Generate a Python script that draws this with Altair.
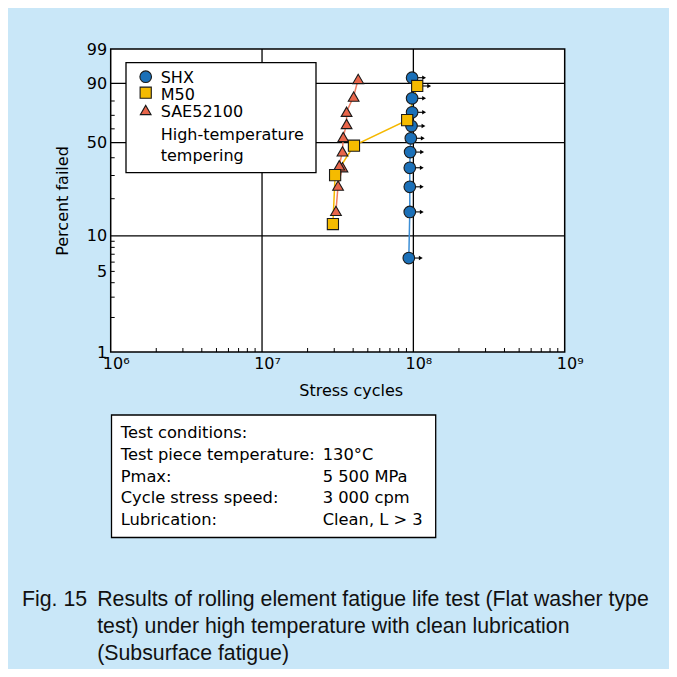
import math
import altair as alt
import pandas as pd

# ---------------- data ----------------
SERIES = ["SHX", "M50", "SAE52100"]
FILL_COLORS = ["#1b70b8", "#f5bb00", "#e8654a"]
LINE_COLORS = ["#3d8fd6", "#f5b800", "#ef7d62"]
SHAPES = ["circle", "square", "triangle-up"]
SIZES = [135, 115, 215]

SHX_CYCLES = [9.33e7, 9.47e7, 9.47e7, 9.47e7, 9.52e7, 9.62e7, 9.72e7, 9.81e7, 9.81e7, 9.81e7]
SHX_PCT = [6.5, 15.7, 24.7, 34.1, 43.6, 53.1, 62.1, 72.2, 81.7, 92.4]
SHX_SUSPENDED = [True, True, True, True, True, True, True, True, True, True]

M50_CYCLES = [2.94e7, 3.04e7, 4.05e7, 9.1e7, 1.06e8]
M50_PCT = [12.5, 30.2, 47.9, 66.5, 88.7]
M50_SUSPENDED = [False, False, False, False, True]

SAE_CYCLES = [3.08e7, 3.18e7, 3.40e7, 3.24e7, 3.40e7, 3.44e7, 3.62e7, 3.62e7, 4.03e7, 4.32e7]
SAE_PCT = [16.0, 25.2, 34.4, 35.5, 44.1, 54.0, 63.6, 72.6, 82.8, 91.9]
SAE_SUSPENDED = [False, False, False, False, False, False, False, False, False, False]

Y_LABEL_TICKS = [1, 5, 10, 50, 90, 99]
Y_GRID = [10, 50, 90]
Y_MINOR = [2, 3, 4, 5, 6, 7, 8, 9, 20, 30, 40, 60, 70, 80]
X_LABEL_TICKS = [1e6, 1e7, 1e8, 1e9]
X_GRID = [1e7, 1e8]
X_MINOR = [m * 10 ** e for e in (6, 7, 8) for m in range(2, 10)]

LEGEND_NOTE = ["High-temperature", "tempering"]
TEST_LABELS = ["Test conditions:", "Test piece temperature:", "Pmax:",
               "Cycle stress speed:", "Lubrication:"]
TEST_VALUES = ["130°C", "5 500 MPa", "3 000 cpm", "Clean, L > 3"]
CAPTION_NUM = "Fig. 15"
CAPTION_LINES = ["Results of rolling element fatigue life test (Flat washer type",
                 "test) under high temperature with clean lubrication",
                 "(Subsurface fatigue)"]

# ---------------- tables ----------------
main = pd.concat([
    pd.DataFrame({"series": "SHX", "cycles": SHX_CYCLES, "pct": SHX_PCT, "susp": SHX_SUSPENDED}),
    pd.DataFrame({"series": "SAE52100", "cycles": SAE_CYCLES, "pct": SAE_PCT, "susp": SAE_SUSPENDED}),
    pd.DataFrame({"series": "M50", "cycles": M50_CYCLES, "pct": M50_PCT, "susp": M50_SUSPENDED}),
], ignore_index=True)

WEIBULL = "log(-log(1 - datum.pct / 100))"


def weib(p):
    return math.log(-math.log(1 - p / 100))


W, H = 454, 303
FONT = "DejaVu Sans"

xscale = alt.Scale(type="log", domain=[1e6, 1e9], nice=False)
yscale = alt.Scale(domain=[weib(1), weib(99)], nice=False, zero=False)

SUP = "['⁰','¹','²','³','⁴','⁵','⁶','⁷','⁸','⁹']"
xaxis = alt.Axis(values=X_LABEL_TICKS,
                 labelExpr="'10' + " + SUP + "[round(log(datum.value) / LN10)]",
                 ticks=False, tickSize=0, domain=False, grid=False,
                 labelFont=FONT, labelFontSize=16, labelColor="black",
                 labelPadding=3, labelOffset=5, labelFlush=False, labelOverlap=False,
                 title="Stress cycles", titleFont=FONT, titleFontSize=16,
                 titleFontWeight="normal", titleColor="black",
                 titleX=240, titleY=43.5, titleBaseline="alphabetic")
yaxis = alt.Axis(values=[weib(p) for p in Y_LABEL_TICKS],
                 labelExpr="format(100 * (1 - exp(-exp(datum.value))), '.0f')",
                 ticks=False, tickSize=0, domain=False, grid=False,
                 labelFont=FONT, labelFontSize=16, labelColor="black",
                 labelPadding=4, labelFlush=False, labelOverlap=False,
                 title="Percent failed", titleFont=FONT, titleFontSize=16,
                 titleFontWeight="normal", titleColor="black",
                 titleAngle=270, titleX=-43, titleY=151.5,
                 titleBaseline="alphabetic", titleAlign="center")


def X():
    return alt.X("cycles:Q", scale=xscale, axis=xaxis)


def Y():
    return alt.Y("w:Q", scale=yscale, axis=yaxis)


def COLOR():
    return alt.Color("series:N", scale=alt.Scale(domain=SERIES, range=FILL_COLORS), legend=None)


def SHAPE():
    return alt.Shape("series:N", scale=alt.Scale(domain=SERIES, range=SHAPES), legend=None)


def SIZE():
    return alt.Size("series:N", scale=alt.Scale(domain=SERIES, range=SIZES), legend=None)


one = pd.DataFrame({"k": [0]})

grid_y = alt.Chart(pd.DataFrame({"pct": Y_GRID})).transform_calculate(w=WEIBULL).mark_rule(
    color="black", strokeWidth=1.3).encode(y=Y())
grid_x = alt.Chart(pd.DataFrame({"cycles": X_GRID})).mark_rule(
    color="black", strokeWidth=1.3).encode(x=X())
minor_y = alt.Chart(pd.DataFrame({"pct": Y_MINOR})).transform_calculate(w=WEIBULL).mark_rule(
    color="black", strokeWidth=1).encode(y=Y(), x=alt.value(0), x2=alt.value(4))
minor_x = alt.Chart(pd.DataFrame({"cycles": X_MINOR})).mark_rule(
    color="black", strokeWidth=1).encode(x=X(), y=alt.value(H), y2=alt.value(H - 4))

lines = alt.Chart(main).transform_calculate(w=WEIBULL).mark_line(strokeWidth=1.5).encode(
    x=X(), y=Y(),
    stroke=alt.Stroke("series:N", scale=alt.Scale(domain=SERIES, range=LINE_COLORS), legend=None),
    order="pct:Q")

arrow_shaft = alt.Chart(main).transform_filter("datum.susp").transform_calculate(w=WEIBULL).mark_rule(
    color="black", strokeWidth=1.1, xOffset=5, x2Offset=11).encode(x=X(), x2="cycles:Q", y=Y())
arrow_head = alt.Chart(main).transform_filter("datum.susp").transform_calculate(w=WEIBULL).mark_point(
    shape="triangle-right", filled=True, color="black", size=20, opacity=1, xOffset=12).encode(x=X(), y=Y())

POINT_STYLE = dict(filled=True, stroke="#1a1a1a", strokeWidth=1.1, opacity=1)

points = alt.Chart(main).transform_calculate(w=WEIBULL).mark_point(**POINT_STYLE).encode(
    x=X(), y=Y(), color=COLOR(), shape=SHAPE(), size=SIZE())

# ----- legend (box, symbols drawn through the same scales, labels) -----
legend_box = alt.Chart(one).mark_rect(fill="white", stroke="black", strokeWidth=1.3).encode(
    x=alt.value(15.3), x2=alt.value(205.3), y=alt.value(13.7), y2=alt.value(123.7))
LEGEND_ROW_Y = [27.7, 43.7, 61.0]
legend_symbols = [
    alt.Chart(pd.DataFrame({"series": [s]})).mark_point(**POINT_STYLE).encode(
        x=alt.value(35), y=alt.value(yv), color=COLOR(), shape=SHAPE(), size=SIZE())
    for s, yv in zip(SERIES, LEGEND_ROW_Y)
]
legend_labels = alt.Chart(one).mark_text(align="left", baseline="alphabetic", font=FONT, fontSize=16,
                                         lineHeight=17.3, color="black").encode(
    x=alt.value(50), y=alt.value(33.7), text=alt.value(SERIES))
legend_note = alt.Chart(one).mark_text(align="left", baseline="alphabetic", font=FONT, fontSize=16,
                                       lineHeight=20.7, color="black").encode(
    x=alt.value(50), y=alt.value(91), text=alt.value(LEGEND_NOTE))

# ----- test conditions box -----
test_box = alt.Chart(one).mark_rect(fill="white", stroke="black", strokeWidth=1.3).encode(
    x=alt.value(0.8), x2=alt.value(325), y=alt.value(366), y2=alt.value(488.5))
test_left = alt.Chart(one).mark_text(align="left", baseline="alphabetic", font=FONT, fontSize=16.3,
                                     lineHeight=21.7, color="black").encode(
    x=alt.value(10), y=alt.value(389.3), text=alt.value(TEST_LABELS))
test_right = alt.Chart(one).mark_text(align="left", baseline="alphabetic", font=FONT, fontSize=16.3,
                                      lineHeight=21.7, color="black").encode(
    x=alt.value(212), y=alt.value(411), text=alt.value(TEST_VALUES))

# ----- caption -----
cap_num = alt.Chart(one).mark_text(align="left", baseline="alphabetic", font="Liberation Sans",
                                   fontSize=21.3, color="#111111").encode(
    x=alt.value(-88.7), y=alt.value(557), text=alt.value(CAPTION_NUM))
cap_text = alt.Chart(one).mark_text(align="left", baseline="alphabetic", font="Liberation Sans",
                                    fontSize=21.3, lineHeight=27, color="#111111").encode(
    x=alt.value(-13.5), y=alt.value(557), text=alt.value(CAPTION_LINES))

chart = alt.layer(
    grid_y, grid_x, minor_y, minor_x, legend_box, lines, arrow_shaft, arrow_head, points,
    *legend_symbols, legend_labels, legend_note,
    test_box, test_left, test_right, cap_num, cap_text
).properties(
    width=W, height=H,
    padding={"left": 102.7, "top": 41, "right": 104.3, "bottom": 317},
    autosize=alt.AutoSizeParams(type="none"),
    background="#c9e7f8",
).configure(font=FONT).configure_view(stroke="black", strokeWidth=1.5, fill="white")

chart.save("out.html", embed_options={"renderer": "svg", "actions": False})
